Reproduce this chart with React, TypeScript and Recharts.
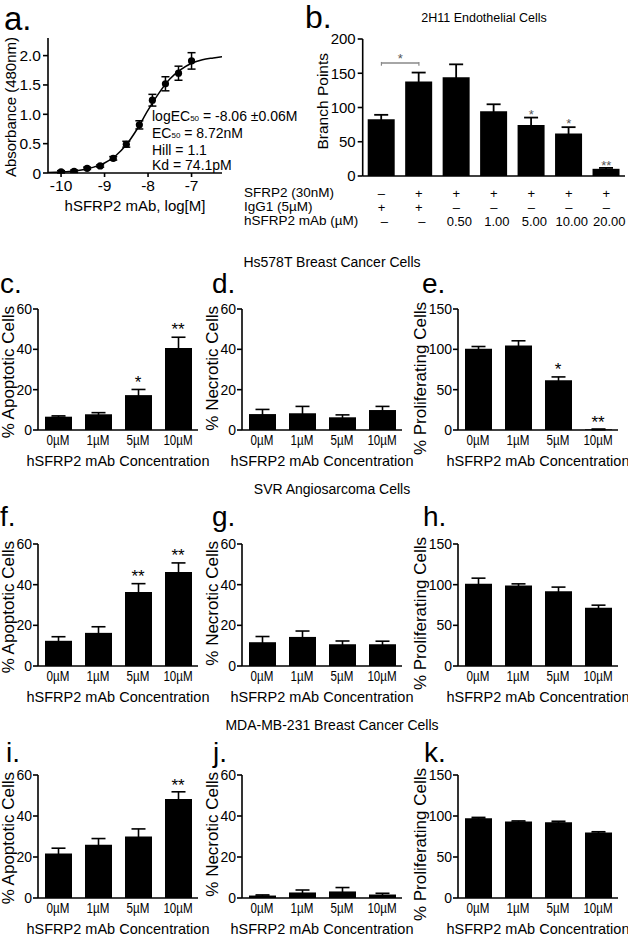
import React from 'react';
import {
    ComposedChart,
    BarChart,
    Bar,
    Line,
    Scatter,
    XAxis,
    YAxis,
    ErrorBar,
    ReferenceDot,
    ReferenceLine
} from 'recharts';

const FONT = '"Liberation Sans", Arial, sans-serif';

// a. binding curve
const bindX = [-10, -9.7, -9.4, -9.1, -8.8, -8.5, -8.2, -7.9, -7.6, -7.3, -7];
const bindY = [0.02, 0.03, 0.08, 0.12, 0.25, 0.49, 0.82, 1.24, 1.52, 1.7, 1.91];
const bindErr = [0.02, 0.02, 0.02, 0.02, 0.03, 0.05, 0.07, 0.1, 0.12, 0.12, 0.14];
const fitX = [-10.3, -10, -9.75, -9.5, -9.25, -9, -8.75, -8.5, -8.25, -8, -7.75, -7.5, -7.25, -7, -6.75, -6.5, -6.3];
const fitY = [0.01, 0.015, 0.03, 0.055, 0.1, 0.17, 0.29, 0.48, 0.75, 1.07, 1.36, 1.6, 1.76, 1.87, 1.93, 1.96, 1.98];

// b. branch points
const branchKeys = ['b0', 'b1', 'b2', 'b3', 'b4', 'b5', 'b6'];
const branchVals = [83, 138, 144, 94.5, 74.6, 62, 10.5];
const branchErr = [6.3, 13, 19, 10.2, 10.7, 9.3, 1.3];
const branchStars = ['', '', '', '', '*', '*', '**'];
const branchStarAt = [0, 0, 0, 0, 94, 81, 19.5];
const sfrp2Row = ['–', '+', '+', '+', '+', '+', '+'];
const iggRow = ['+', '+', '–', '–', '–', '–', '–'];
const mabRow = ['–', '–', '0.50', '1.00', '5.00', '10.00', '20.00'];

// c-k. cell assays
const concLabels = ['0µM', '1µM', '5µM', '10µM'];

const apoptoticHs = [6.6, 7.8, 17.3, 40.6];
const apoptoticHsErr = [0.4, 0.8, 2.8, 5.4];
const apoptoticHsStars = ['', '', '*', '**'];
const apoptoticHsStarAt = [0, 0, 25.5, 51.8];
const necroticHs = [7.9, 8.3, 6.3, 9.9];
const necroticHsErr = [2.3, 3.4, 1.2, 1.8];
const prolifHs = [100.7, 104.8, 61.8, 0.8];
const prolifHsErr = [2.8, 5.8, 4, 0.4];
const prolifHsStars = ['', '', '*', '**'];
const prolifHsStarAt = [0, 0, 80, 14.4];

const apoptoticSvr = [12.4, 16.3, 36.4, 46.2];
const apoptoticSvrErr = [2, 3, 4.1, 4.5];
const apoptoticSvrStars = ['', '', '**', '**'];
const apoptoticSvrStarAt = [0, 0, 45.9, 56.2];
const necroticSvr = [11.7, 14.3, 10.7, 10.7];
const necroticSvrErr = [2.8, 2.9, 1.6, 1.5];
const prolifSvr = [101, 99, 92, 71.5];
const prolifSvrErr = [7, 2, 5, 3.3];

const apoptoticMda = [21.7, 26, 30, 48.3];
const apoptoticMdaErr = [2.6, 3, 3.7, 3.5];
const apoptoticMdaStars = ['', '', '', '**'];
const apoptoticMdaStarAt = [0, 0, 0, 56.8];
const necroticMda = [1.2, 2.7, 3.2, 1.7];
const necroticMdaErr = [0.3, 1.2, 1.9, 0.6];
const prolifMda = [97.3, 93.2, 92.4, 79.8];
const prolifMdaErr = [1, 0.8, 1.2, 1];

const pctTicks = [0, 20, 40, 60];
const prolifTicks = [0, 50, 100, 150];

const starShape = (txt: string, size: number, color: string) => (p: any) => (
    <text x={p.cx} y={p.cy + size * 0.55} textAnchor="middle" fontSize={size} fill={color} fontFamily={FONT}>
        {txt}
    </text>
);

// condensed look of the original tick labels
const NarrowTick = (p: any) => (
    <text
        x={0}
        y={0}
        transform={`translate(${p.x},${p.y}) scale(0.8,1)`}
        dy="0.71em"
        textAnchor="middle"
        fontSize={14.5}
        fill="#000"
        fontFamily={FONT}
    >
        {p.payload.value}
    </text>
);

const Txt = ({ x, y, size, children, anchor = 'start' }: any) => (
    <div
        style={{
            position: 'absolute',
            left: x,
            top: y,
            fontFamily: FONT,
            fontSize: size,
            lineHeight: 1,
            whiteSpace: 'nowrap',
            color: '#000',
            transform: `translate(${anchor === 'middle' ? '-50%' : '0'}, -50%)`
        }}
    >
        {children}
    </div>
);

// rotated axis title, its end (top) pinned at (x, yTop)
const VTitle = ({ x, yTop, size, children }: any) => (
    <div
        style={{
            position: 'absolute',
            left: x,
            top: yTop,
            fontFamily: FONT,
            fontSize: size,
            lineHeight: 1,
            whiteSpace: 'nowrap',
            color: '#000',
            transformOrigin: 'right center',
            transform: 'translate(-100%, -50%) rotate(-90deg)'
        }}
    >
        {children}
    </div>
);

const Letter = ({ x, baseline, size = 28, children }: any) => (
    <div
        style={{
            position: 'absolute',
            left: x,
            top: baseline - size * 0.847,
            fontFamily: FONT,
            fontSize: size,
            lineHeight: 1,
            color: '#000'
        }}
    >
        {children}
    </div>
);

interface PanelProps {
    axisX: number;
    top: number;
    plotH: number;
    yMax: number;
    ticks: number[];
    vals: number[];
    errs: number[];
    stars?: string[];
    starAt?: number[];
    yLabel: string;
    labelGap: number;
    labelRise: number;
}

const axisStyle = { stroke: '#000', strokeWidth: 1.6 };

const BarPanel: React.FC<PanelProps> = ({ axisX, top, plotH, yMax, ticks, vals, errs, stars, starAt, yLabel, labelGap, labelRise }) => {
    const padL = 42;
    const padT = 12;
    const padR = 16;
    const padB = 40;
    const data = concLabels.map((name, i) => ({ name, v: vals[i], e: errs[i] }));
    return (
        <>
            <div style={{ position: 'absolute', left: axisX - padL, top: top - padT }}>
                <BarChart
                    width={padL + 160 + padR}
                    height={padT + plotH + padB}
                    data={data}
                    margin={{ top: padT, right: padR, left: 0, bottom: 0 }}
                    barSize={27}
                >
                    <XAxis
                        dataKey="name"
                        tickLine={false}
                        axisLine={axisStyle}
                        tickSize={0}
                        tickMargin={5}
                        height={padB}
                        interval={0}
                        tick={<NarrowTick />}
                        label={{ value: 'hSFRP2 mAb Concentration', position: 'insideBottom', offset: 4, fill: '#000', fontSize: 14.5, fontFamily: FONT }}
                    />
                    <YAxis
                        width={padL}
                        domain={[0, yMax]}
                        ticks={ticks}
                        interval={0}
                        axisLine={axisStyle}
                        tickLine={axisStyle}
                        tickSize={5}
                        tickMargin={1}
                        tick={{ fill: '#000', fontSize: 14, fontFamily: FONT }}
                    />
                    <Bar dataKey="v" fill="#000" isAnimationActive={false}>
                        <ErrorBar dataKey="e" direction="y" width={7} stroke="#000" strokeWidth={1.6} />
                    </Bar>
                    {stars &&
                        stars.map((s, i) =>
                            s ? (
                                <ReferenceDot
                                    key={i}
                                    x={concLabels[i]}
                                    y={starAt![i]}
                                    r={0}
                                    ifOverflow="visible"
                                    shape={starShape(s, 17, '#000')}
                                />
                            ) : null
                        )}
                </BarChart>
            </div>
            <VTitle x={axisX - labelGap} yTop={top - labelRise} size={17}>
                {yLabel}
            </VTitle>
        </>
    );
};

const TableTick = (p: any) => {
    const i = p.index ?? p.payload.index;
    return (
        <g fontFamily={FONT} fontSize={13} fill="#000">
            <text x={p.x} y={p.y + 17} dy="0.35em" textAnchor="middle">{sfrp2Row[i]}</text>
            <text x={p.x} y={p.y + 31} dy="0.35em" textAnchor="middle">{iggRow[i]}</text>
            <text x={p.x + 3} y={p.y + 45} dy="0.35em" textAnchor="middle">{mabRow[i]}</text>
        </g>
    );
};

export default function App() {
    const bindData = bindX.map((x, i) => ({ x, y: bindY[i], e: bindErr[i] }));
    const fitData = fitX.map((x, i) => ({ x, y: fitY[i] }));
    const branchData = branchKeys.map((k, i) => ({ k, v: branchVals[i], e: branchErr[i] }));

    return (
        <div style={{ position: 'absolute', left: 0, top: 0, width: 628, height: 937, background: '#fff', overflow: 'hidden', fontFamily: FONT }}>
            {/* a. */}
            <Letter x={4} baseline={30} size={33}>a.</Letter>
            <div style={{ position: 'absolute', left: 0, top: 28 }}>
                <ComposedChart width={232} height={190} margin={{ top: 10, right: 10, left: 0, bottom: 0 }}>
                    <XAxis
                        type="number"
                        dataKey="x"
                        domain={[-10.3, -6.3]}
                        ticks={[-10, -9, -8, -7]}
                        allowDataOverflow
                        height={45}
                        axisLine={axisStyle}
                        tickLine={axisStyle}
                        tickSize={4}
                        tickMargin={3}
                        tick={{ fill: '#000', fontSize: 15.5, fontFamily: FONT }}
                        label={{ value: 'hSFRP2 mAb, log[M]', position: 'insideBottom', offset: 7, fill: '#000', fontSize: 15, fontFamily: FONT }}
                    />
                    <YAxis
                        type="number"
                        domain={[0, 2.3]}
                        ticks={[0, 0.5, 1, 1.5, 2]}
                        interval={0}
                        allowDataOverflow
                        width={48}
                        axisLine={axisStyle}
                        tickLine={axisStyle}
                        tickSize={5}
                        tickMargin={2}
                        tickFormatter={(v: number) => (v === 0 ? '0' : v.toFixed(1))}
                        tick={{ fill: '#000', fontSize: 15.5, fontFamily: FONT }}
                    />
                    <Line data={fitData} dataKey="y" type="monotone" dot={false} stroke="#000" strokeWidth={1.5} isAnimationActive={false} />
                    <Scatter
                        data={bindData}
                        dataKey="y"
                        fill="#000"
                        isAnimationActive={false}
                        shape={(p: any) => <circle cx={p.cx} cy={p.cy} r={3.6} fill="#000" />}
                    >
                        <ErrorBar dataKey="e" direction="y" width={4} stroke="#000" strokeWidth={1.5} />
                    </Scatter>
                </ComposedChart>
            </div>
            <VTitle x={10} yTop={37} size={15}>Absorbance (480nm)</VTitle>
            <div style={{ position: 'absolute', left: 152, top: 109, fontFamily: FONT, fontSize: 14, lineHeight: '15px', color: '#000' }}>
                <div>logEC<span style={{ fontSize: 8 }}>50</span> = -8.06 ±0.06M</div>
                <div>EC<span style={{ fontSize: 8 }}>50</span> = 8.72nM</div>
                <div>Hill = 1.1</div>
                <div>Kd = 74.1pM</div>
            </div>

            {/* b. */}
            <Letter x={305} baseline={28} size={32}>b.</Letter>
            <Txt x={484} y={18} size={12.5} anchor="middle">2H11 Endothelial Cells</Txt>
            <div style={{ position: 'absolute', left: 300, top: 29 }}>
                <BarChart width={328} height={202} data={branchData} margin={{ top: 10, right: 3, left: 0, bottom: 0 }} barSize={27}>
                    <XAxis dataKey="k" tickLine={false} axisLine={axisStyle} tickSize={0} tickMargin={0} height={55} interval={0} tick={<TableTick />} />
                    <YAxis
                        width={62.7}
                        domain={[0, 200]}
                        ticks={[0, 50, 100, 150, 200]}
                        interval={0}
                        axisLine={axisStyle}
                        tickLine={axisStyle}
                        tickSize={5}
                        tickMargin={2}
                        tick={{ fill: '#000', fontSize: 15, fontFamily: FONT }}
                    />
                    <Bar dataKey="v" fill="#000" isAnimationActive={false}>
                        <ErrorBar dataKey="e" direction="y" width={7} stroke="#000" strokeWidth={1.8} />
                    </Bar>
                    <ReferenceLine
                        segment={[{ x: 'b0', y: 165 }, { x: 'b1', y: 165 }]}
                        stroke="#888"
                        strokeWidth={1.4}
                        ifOverflow="visible"
                        label={{ value: '*', position: 'top', offset: 0, fill: '#555', fontSize: 13, fontFamily: FONT }}
                    />
                    <ReferenceLine segment={[{ x: 'b0', y: 166.5 }, { x: 'b0', y: 161 }]} stroke="#888" strokeWidth={1.2} />
                    <ReferenceLine segment={[{ x: 'b1', y: 166.5 }, { x: 'b1', y: 161 }]} stroke="#888" strokeWidth={1.2} />
                    {branchStars.map((s, i) =>
                        s ? (
                            <ReferenceDot key={i} x={branchKeys[i]} y={branchStarAt[i]} r={0} ifOverflow="visible" shape={starShape(s, 13, '#555')} />
                        ) : null
                    )}
                </BarChart>
            </div>
            <VTitle x={323} yTop={53} size={15.5}>Branch Points</VTitle>
            <Txt x={244} y={193} size={13.5}>SFRP2 (30nM)</Txt>
            <Txt x={244} y={207} size={13.5}>IgG1 (5µM)</Txt>
            <Txt x={244} y={221} size={13.5}>hSFRP2 mAb (µM)</Txt>

            {/* Hs578T */}
            <Txt x={332} y={262} size={14} anchor="middle">Hs578T Breast Cancer Cells</Txt>
            <Letter x={0} baseline={294}>c.</Letter>
            <Letter x={212} baseline={294}>d.</Letter>
            <Letter x={422} baseline={294}>e.</Letter>
            <BarPanel axisX={38} top={309} plotH={121} yMax={60} ticks={pctTicks} vals={apoptoticHs} errs={apoptoticHsErr}
                stars={apoptoticHsStars} starAt={apoptoticHsStarAt} yLabel="% Apoptotic Cells" labelGap={30} labelRise={3} />
            <BarPanel axisX={242} top={309} plotH={121} yMax={60} ticks={pctTicks} vals={necroticHs} errs={necroticHsErr}
                yLabel="% Necrotic Cells" labelGap={30} labelRise={3} />
            <BarPanel axisX={458} top={309} plotH={121} yMax={150} ticks={prolifTicks} vals={prolifHs} errs={prolifHsErr}
                stars={prolifHsStars} starAt={prolifHsStarAt} yLabel="% Proliferating Cells" labelGap={38} labelRise={7} />

            {/* SVR */}
            <Txt x={332} y={489} size={14} anchor="middle">SVR Angiosarcoma Cells</Txt>
            <Letter x={0} baseline={527}>f.</Letter>
            <Letter x={212} baseline={527}>g.</Letter>
            <Letter x={423} baseline={527}>h.</Letter>
            <BarPanel axisX={38} top={544} plotH={122} yMax={60} ticks={pctTicks} vals={apoptoticSvr} errs={apoptoticSvrErr}
                stars={apoptoticSvrStars} starAt={apoptoticSvrStarAt} yLabel="% Apoptotic Cells" labelGap={30} labelRise={3} />
            <BarPanel axisX={242} top={544} plotH={122} yMax={60} ticks={pctTicks} vals={necroticSvr} errs={necroticSvrErr}
                yLabel="% Necrotic Cells" labelGap={30} labelRise={3} />
            <BarPanel axisX={458} top={544} plotH={122} yMax={150} ticks={prolifTicks} vals={prolifSvr} errs={prolifSvrErr}
                yLabel="% Proliferating Cells" labelGap={38} labelRise={7} />

            {/* MDA-MB-231 */}
            <Txt x={332} y={725} size={14} anchor="middle">MDA-MB-231 Breast Cancer Cells</Txt>
            <Letter x={6} baseline={763}>i.</Letter>
            <Letter x={213} baseline={763}>j.</Letter>
            <Letter x={424} baseline={763}>k.</Letter>
            <BarPanel axisX={38} top={775} plotH={123} yMax={60} ticks={pctTicks} vals={apoptoticMda} errs={apoptoticMdaErr}
                stars={apoptoticMdaStars} starAt={apoptoticMdaStarAt} yLabel="% Apoptotic Cells" labelGap={30} labelRise={3} />
            <BarPanel axisX={242} top={775} plotH={123} yMax={60} ticks={pctTicks} vals={necroticMda} errs={necroticMdaErr}
                yLabel="% Necrotic Cells" labelGap={30} labelRise={3} />
            <BarPanel axisX={458} top={775} plotH={123} yMax={150} ticks={prolifTicks} vals={prolifMda} errs={prolifMdaErr}
                yLabel="% Proliferating Cells" labelGap={38} labelRise={7} />
        </div>
    );
}
